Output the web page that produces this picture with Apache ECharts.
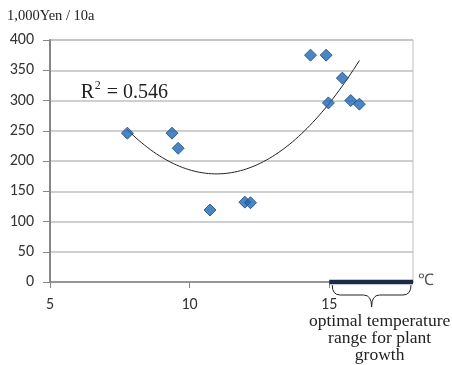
<!DOCTYPE html>
<html>
<head>
<meta charset="utf-8">
<script src="https://cdn.jsdelivr.net/npm/echarts@6/dist/echarts.min.js"></script>
<style>
html,body{margin:0;padding:0;background:#fff;}
#chart{width:452px;height:365px;}
</style>
</head>
<body>
<div id="chart"></div>
<script>
// Data
var temperature = [7.77, 9.37, 9.59, 10.73, 11.98, 12.18, 14.33, 14.89, 14.97, 15.47, 15.77, 16.08];
var income      = [246, 246, 221, 119, 132, 131, 375, 375, 296, 337, 300, 294];
var optimalRange = [15, 18];
var xTicks = [5, 10, 15];
var yTicks = [0, 50, 100, 150, 200, 250, 300, 350, 400];
var yUnit = '1,000Yen / 10a';
var r2Text = '= 0.546';
var rangeLabel = ['optimal temperature', 'range for plant', 'growth'];

// Quadratic least-squares trendline (derived from the data)
function quadFit(xs, ys) {
  var n = xs.length, s = [0,0,0,0,0], t = [0,0,0];
  for (var i = 0; i < n; i++) {
    var x = xs[i], y = ys[i];
    for (var k = 0; k < 5; k++) s[k] += Math.pow(x, k);
    for (var k2 = 0; k2 < 3; k2++) t[k2] += y * Math.pow(x, k2);
  }
  var A = [[s[0], s[1], s[2], t[0]], [s[1], s[2], s[3], t[1]], [s[2], s[3], s[4], t[2]]];
  for (var c = 0; c < 3; c++) {
    for (var r = c + 1; r < 3; r++) {
      var f = A[r][c] / A[c][c];
      for (var j = c; j < 4; j++) A[r][j] -= f * A[c][j];
    }
  }
  var b = [0,0,0];
  for (var r2 = 2; r2 >= 0; r2--) {
    var sum = A[r2][3];
    for (var j2 = r2 + 1; j2 < 3; j2++) sum -= A[r2][j2] * b[j2];
    b[r2] = sum / A[r2][r2];
  }
  return b;
}
var coef = quadFit(temperature, income);
var xmin = Math.min.apply(null, temperature), xmax = Math.max.apply(null, temperature);
var trend = [];
for (var i = 0; i <= 80; i++) {
  var xv = xmin + (xmax - xmin) * i / 80;
  trend.push([xv, coef[0] + coef[1] * xv + coef[2] * xv * xv]);
}

var points = temperature.map(function (x, i) { return [x, income[i]]; });

var chart = echarts.init(document.getElementById('chart'), null, {renderer: 'canvas'});
var labelFont = 'Carlito, "Liberation Sans", Arial, sans-serif';
var serif = '"Liberation Serif", "Times New Roman", serif';

chart.setOption({
  animation: false,
  grid: {left: 50, right: 39, top: 40, bottom: 83, show: true, borderColor: '#bfbfbf', borderWidth: 1},
  xAxis: {
    type: 'value', min: 5, max: 18, interval: 5,
    axisLine: {lineStyle: {color: '#868686', width: 1.5}},
    axisTick: {show: true, length: 6, lineStyle: {color: '#868686'}, customValues: xTicks},
    axisLabel: {customValues: xTicks, color: '#333', fontFamily: labelFont, fontSize: 16, margin: 15},
    splitLine: {show: false}
  },
  yAxis: {
    type: 'value', min: 0, max: 400, interval: 50,
    axisLine: {show: true, lineStyle: {color: '#868686', width: 2}},
    axisTick: {show: true, length: 7, lineStyle: {color: '#868686'}},
    axisLabel: {color: '#333', fontFamily: labelFont, fontSize: 16, margin: 16},
    splitLine: {lineStyle: {color: '#bfbfbf', width: 1.5}}
  },
  series: [
    {
      type: 'line', data: trend, showSymbol: false, smooth: false,
      lineStyle: {color: '#222', width: 1}, z: 2, silent: true
    },
    {
      type: 'line', data: [[optimalRange[0], 0], [optimalRange[1], 0]], showSymbol: false,
      lineStyle: {color: '#1c2947', width: 4.5}, z: 3, silent: true, clip: false
    },
    {
      type: 'scatter', data: points, symbol: 'diamond', symbolSize: 12,
      itemStyle: {color: '#1f66b5', borderColor: '#1a4a80', borderWidth: 1}, z: 4
    }
  ]
});

// Annotations positioned from the axis scales
function px(x, y) { return chart.convertToPixel({gridIndex: 0}, [x, y]); }
var pL = px(optimalRange[0], 0), pR = px(optimalRange[1], 0);
var L = pL[0] + 3, R = pR[0] - 2, T = pL[1] + 3, M = (L + R) / 2, H = 10, D = 22;
var r2pos = px(6.1, 330);
var braceStyle = {stroke: '#222', lineWidth: 1, fill: null};

chart.setOption({
  graphic: [
    {type: 'text', left: 7, top: 9, style: {text: yUnit, font: '14.5px ' + serif, fill: '#222'}},
    {type: 'text', x: r2pos[0], y: r2pos[1], style: {text: 'R', font: '20px ' + serif, fill: '#222'}},
    {type: 'text', x: r2pos[0] + 14, y: r2pos[1] - 3, style: {text: '2', font: '12px ' + serif, fill: '#222'}},
    {type: 'text', x: r2pos[0] + 26, y: r2pos[1], style: {text: r2Text, font: '20px ' + serif, fill: '#222'}},
    {type: 'text', x: pR[0] + 5, y: pR[1] - 9, style: {text: '\u2103', font: '16px ' + serif, fill: '#555'}},
    {type: 'bezierCurve', shape: {x1: L, y1: T, cpx1: L, cpy1: T + H, x2: L + 8, y2: T + H}, style: braceStyle},
    {type: 'line', shape: {x1: L + 8, y1: T + H, x2: M - 8, y2: T + H}, style: braceStyle},
    {type: 'bezierCurve', shape: {x1: M - 8, y1: T + H, cpx1: M, cpy1: T + H, x2: M, y2: T + D}, style: braceStyle},
    {type: 'bezierCurve', shape: {x1: M + 8, y1: T + H, cpx1: M, cpy1: T + H, x2: M, y2: T + D}, style: braceStyle},
    {type: 'line', shape: {x1: M + 8, y1: T + H, x2: R - 8, y2: T + H}, style: braceStyle},
    {type: 'bezierCurve', shape: {x1: R, y1: T, cpx1: R, cpy1: T + H, x2: R - 8, y2: T + H}, style: braceStyle},
    {type: 'text', x: M + 8, y: T + 28, style: {
      text: rangeLabel.join('\n'), font: '17.5px ' + serif, fill: '#222', align: 'center', lineHeight: 17
    }}
  ]
});
</script>
</body>
</html>
